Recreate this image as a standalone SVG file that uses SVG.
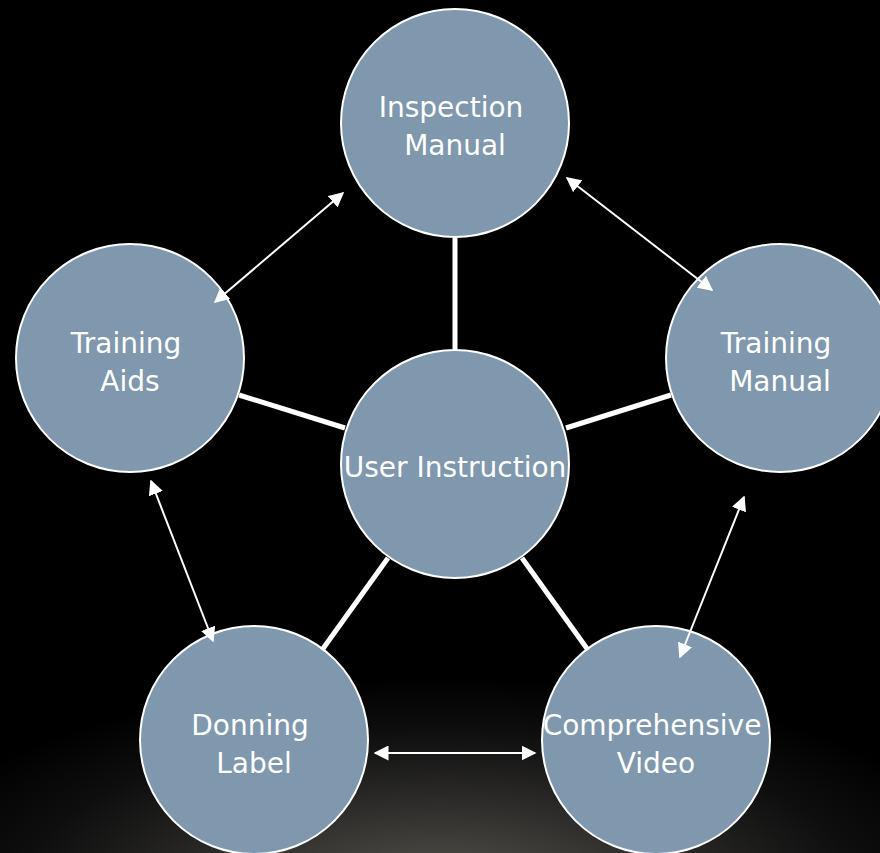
<svg xmlns="http://www.w3.org/2000/svg" width="880" height="853" viewBox="0 0 880 853">
<defs>
<radialGradient id="glow" cx="440" cy="890" r="560" gradientUnits="userSpaceOnUse" gradientTransform="translate(0 890) scale(1 0.38) translate(0 -890)">
<stop offset="0" stop-color="#57544d"/>
<stop offset="0.4" stop-color="#2e2d2b"/>
<stop offset="0.75" stop-color="#0e0e0e"/>
<stop offset="1" stop-color="#000000"/>
</radialGradient>
<marker id="ah" viewBox="0 0 10 10" refX="9" refY="5" markerWidth="7.5" markerHeight="7.5" orient="auto-start-reverse" markerUnits="strokeWidth">
<path d="M0,0 L10,5 L0,10 Z" fill="#ffffff"/>
</marker>
<style>
.node circle{fill:#7f98ad;stroke:#ffffff;stroke-width:2}
.node text{font-family:"DejaVu Sans",Verdana,sans-serif;font-size:28px;fill:#ffffff;text-anchor:middle}
.spoke{stroke:#ffffff;stroke-width:5;fill:none}
.arr{stroke:#ffffff;stroke-width:2;fill:none;marker-start:url(#ah);marker-end:url(#ah)}
</style>
</defs>
<rect x="0" y="0" width="880" height="853" fill="#000000"/>
<rect x="0" y="0" width="880" height="853" fill="url(#glow)"/>
<g id="inspection-manual" class="node">
<circle cx="455" cy="123" r="114"/>
<text x="451" y="117">Inspection</text>
<text x="455" y="155">Manual</text>
</g>
<g id="training-aids" class="node">
<circle cx="130" cy="358" r="114"/>
<text x="126" y="353">Training</text>
<text x="130" y="391">Aids</text>
</g>
<g id="training-manual" class="node">
<circle cx="780" cy="358" r="114"/>
<text x="776" y="353">Training</text>
<text x="780" y="391">Manual</text>
</g>
<g id="user-instruction" class="node">
<circle cx="455" cy="464" r="114"/>
<text x="455" y="477">User Instruction</text>
</g>
<g id="donning-label" class="node">
<circle cx="254" cy="740" r="114"/>
<text x="250" y="735">Donning</text>
<text x="254" y="773">Label</text>
</g>
<g id="comprehensive-video" class="node">
<circle cx="656" cy="740" r="114"/>
<text x="652" y="735">Comprehensive</text>
<text x="656" y="773">Video</text>
</g>
<g id="connectors">
<line class="spoke" x1="455" y1="238" x2="455" y2="349"/>
<line class="spoke" x1="239" y1="395" x2="345" y2="428"/>
<line class="spoke" x1="566" y1="428" x2="671" y2="395"/>
<line class="spoke" x1="388" y1="558" x2="322" y2="650"/>
<line class="spoke" x1="522" y1="558" x2="588" y2="650"/>
<line class="arr" x1="215" y1="302" x2="343" y2="193"/>
<line class="arr" x1="567" y1="178" x2="712" y2="290"/>
<line class="arr" x1="151" y1="481" x2="213" y2="641"/>
<line class="arr" x1="744" y1="497" x2="680" y2="657"/>
<line class="arr" x1="375" y1="753" x2="535" y2="753"/>
</g>
</svg>
